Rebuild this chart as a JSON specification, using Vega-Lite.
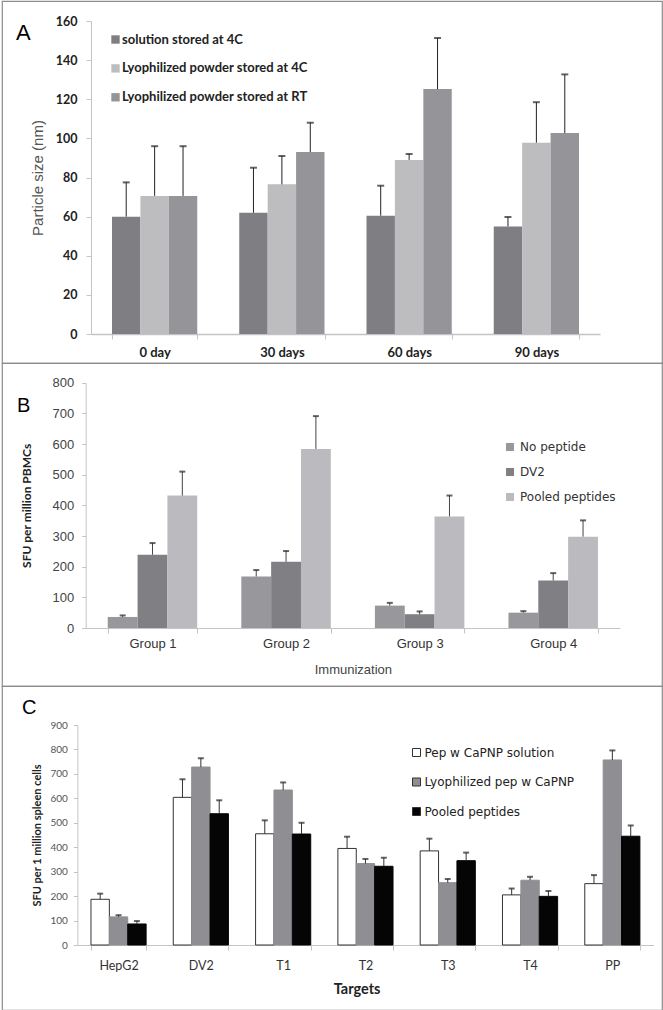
{
  "$schema": "https://vega.github.io/schema/vega-lite/v6.json",
  "padding": {"left": 1, "top": 0, "right": 0, "bottom": 0},
  "spacing": 0,
  "bounds": "flush",
  "background": "white",
  "resolve": {"scale": {"color": "independent", "fill": "independent", "stroke": "independent", "xOffset": "independent", "x": "independent", "y": "independent"}},
  "config": {
    "view": {"stroke": "#8c8c8c", "strokeWidth": 1.2},
    "axis": {"grid": false, "labelOverlap": false}
  },
  "vconcat": [
    {
      "width": 660,
      "height": 362,
      "title": {"text": "A", "anchor": "start", "frame": "group", "font": "Liberation Sans", "fontSize": 22, "fontWeight": "normal", "color": "#000", "baseline": "alphabetic", "offset": 0, "dx": 14, "dy": 61},
      "data": {"values": [
        {"g": "0 day", "s": "solution stored at 4C", "v": 60, "hi": 77.5},
        {"g": "0 day", "s": "Lyophilized powder stored at 4C", "v": 70.6, "hi": 96},
        {"g": "0 day", "s": "Lyophilized powder stored at RT", "v": 70.6, "hi": 96},
        {"g": "30 days", "s": "solution stored at 4C", "v": 62, "hi": 85},
        {"g": "30 days", "s": "Lyophilized powder stored at 4C", "v": 76.5, "hi": 91},
        {"g": "30 days", "s": "Lyophilized powder stored at RT", "v": 93, "hi": 108},
        {"g": "60 days", "s": "solution stored at 4C", "v": 60.5, "hi": 75.8},
        {"g": "60 days", "s": "Lyophilized powder stored at 4C", "v": 89, "hi": 92},
        {"g": "60 days", "s": "Lyophilized powder stored at RT", "v": 125.2, "hi": 151.3},
        {"g": "90 days", "s": "solution stored at 4C", "v": 55, "hi": 59.8},
        {"g": "90 days", "s": "Lyophilized powder stored at 4C", "v": 97.8, "hi": 118.5},
        {"g": "90 days", "s": "Lyophilized powder stored at RT", "v": 102.7, "hi": 132.7}
      ]},
      "encoding": {
        "x": {"field": "g", "type": "nominal", "sort": ["0 day", "30 days", "60 days", "90 days"],
          "scale": {"range": [89, 598], "paddingInner": 0.33, "paddingOuter": 0.165},
          "axis": {"title": null, "orient": "bottom", "offset": -29, "domainColor": "#c4c4c4", "domainWidth": 1.5, "tickColor": "#c4c4c4", "tickBand": "extent", "tickSize": 5, "labelPadding": 7, "labelFont": "Lato", "labelFontSize": 13, "labelFontWeight": "bold", "labelColor": "#222", "labelAngle": 0}},
        "xOffset": {"field": "s", "type": "nominal", "sort": ["solution stored at 4C", "Lyophilized powder stored at 4C", "Lyophilized powder stored at RT"]}
      },
      "layer": [
        {
          "mark": {"type": "bar"},
          "encoding": {
            "y": {"field": "v", "type": "quantitative",
              "scale": {"domain": [0, 160], "range": [333, 20], "nice": false},
              "axis": {"title": "Particle size (nm)", "orient": "left", "offset": -89, "values": [0, 20, 40, 60, 80, 100, 120, 140, 160], "tickCount": 20, "labelOverlap": false, "domainColor": "#c4c4c4", "tickColor": "#c4c4c4", "tickSize": 5, "labelPadding": 9, "labelFont": "Lato", "labelFontSize": 12.5, "labelFontWeight": "bold", "labelColor": "#222", "titleFont": "Liberation Sans", "titleFontSize": 15, "titleFontWeight": "normal", "titleColor": "#555", "titlePadding": 10}},
            "color": {"field": "s", "type": "nominal", "sort": ["solution stored at 4C", "Lyophilized powder stored at 4C", "Lyophilized powder stored at RT"],
              "scale": {"range": ["#7e7e83", "#bdbdc0", "#959599"]},
              "legend": {"orient": "none", "legendX": 107, "legendY": 32, "title": null, "symbolType": "square", "symbolSize": 70, "symbolStrokeWidth": 0, "labelFont": "Lato", "labelFontSize": 13, "labelFontWeight": "bold", "labelColor": "#222", "labelLimit": 400, "rowPadding": 14.9, "labelOffset": 0, "padding": 0}}
          }
        },
        {
          "mark": {"type": "rule", "color": "#222", "strokeWidth": 1},
          "encoding": {"y": {"field": "v", "type": "quantitative"}, "y2": {"field": "hi"}}
        },
        {
          "mark": {"type": "tick", "color": "#222", "thickness": 2, "size": 7},
          "encoding": {"y": {"field": "hi", "type": "quantitative"}}
        }
      ]
    },
    {
      "width": 660,
      "height": 323,
      "title": {"text": "B", "anchor": "start", "frame": "group", "font": "Liberation Sans", "fontSize": 20, "fontWeight": "normal", "color": "#000", "baseline": "alphabetic", "offset": 0, "dx": 15, "dy": 69},
      "data": {"values": [
        {"g": "Group 1", "s": "No peptide", "v": 36, "hi": 41},
        {"g": "Group 1", "s": "DV2", "v": 239, "hi": 277},
        {"g": "Group 1", "s": "Pooled peptides", "v": 432, "hi": 510},
        {"g": "Group 2", "s": "No peptide", "v": 168, "hi": 189},
        {"g": "Group 2", "s": "DV2", "v": 216, "hi": 251},
        {"g": "Group 2", "s": "Pooled peptides", "v": 584, "hi": 691},
        {"g": "Group 3", "s": "No peptide", "v": 73, "hi": 82},
        {"g": "Group 3", "s": "DV2", "v": 45, "hi": 54},
        {"g": "Group 3", "s": "Pooled peptides", "v": 364, "hi": 432},
        {"g": "Group 4", "s": "No peptide", "v": 50, "hi": 55},
        {"g": "Group 4", "s": "DV2", "v": 155, "hi": 179},
        {"g": "Group 4", "s": "Pooled peptides", "v": 298, "hi": 351}
      ]},
      "encoding": {
        "x": {"field": "g", "type": "nominal", "sort": ["Group 1", "Group 2", "Group 3", "Group 4"],
          "scale": {"range": [83.7, 618], "paddingInner": 0.33, "paddingOuter": 0.165},
          "axis": {"title": "Immunization", "orient": "bottom", "offset": -58, "domainColor": "#c4c4c4", "tickColor": "#c4c4c4", "tickBand": "extent", "tickSize": 5, "labelPadding": 4, "labelFont": "Liberation Sans", "labelFontSize": 13, "labelColor": "#333", "labelAngle": 0, "titleFont": "Liberation Sans", "titleFontSize": 13, "titleFontWeight": "normal", "titleColor": "#444", "titlePadding": 13}},
        "xOffset": {"field": "s", "type": "nominal", "sort": ["No peptide", "DV2", "Pooled peptides"]}
      },
      "layer": [
        {
          "mark": {"type": "bar"},
          "encoding": {
            "y": {"field": "v", "type": "quantitative",
              "scale": {"domain": [0, 800], "range": [265, 19.7], "nice": false},
              "axis": {"title": "SFU per million PBMCs", "orient": "left", "offset": -83.7, "values": [0, 100, 200, 300, 400, 500, 600, 700, 800], "tickCount": 20, "labelOverlap": false, "domainColor": "#c4c4c4", "tickColor": "#c4c4c4", "tickSize": 4, "labelPadding": 8, "labelFont": "Liberation Sans", "labelFontSize": 13, "labelColor": "#444", "titleFont": "Lato", "titleFontSize": 12, "titleFontWeight": "bold", "titleColor": "#222", "titlePadding": 19}},
            "color": {"field": "s", "type": "nominal", "sort": ["No peptide", "DV2", "Pooled peptides"],
              "scale": {"range": ["#98989c", "#7f7f84", "#bbbbbf"]},
              "legend": {"orient": "none", "legendX": 502, "legendY": 78, "title": null, "symbolType": "square", "symbolSize": 64, "symbolStrokeWidth": 0, "labelFont": "DejaVu Sans", "labelFontSize": 12, "labelColor": "#333", "labelLimit": 400, "rowPadding": 13, "labelOffset": 4, "padding": 0}}
          }
        },
        {
          "mark": {"type": "rule", "color": "#444", "strokeWidth": 1},
          "encoding": {"y": {"field": "v", "type": "quantitative"}, "y2": {"field": "hi"}}
        },
        {
          "mark": {"type": "tick", "color": "#222", "thickness": 2, "size": 6},
          "encoding": {"y": {"field": "hi", "type": "quantitative"}}
        }
      ]
    },
    {
      "width": 660,
      "height": 324,
      "title": {"text": "C", "anchor": "start", "frame": "group", "font": "Liberation Sans", "fontSize": 20, "fontWeight": "normal", "color": "#000", "baseline": "alphabetic", "offset": 0, "dx": 20, "dy": 48},
      "data": {"values": [
        {"g": "HepG2", "s": "Pep w CaPNP solution", "v": 187, "hi": 210},
        {"g": "HepG2", "s": "Lyophilized pep w CaPNP", "v": 115, "hi": 122},
        {"g": "HepG2", "s": "Pooled peptides", "v": 86, "hi": 98},
        {"g": "DV2", "s": "Pep w CaPNP solution", "v": 604, "hi": 678},
        {"g": "DV2", "s": "Lyophilized pep w CaPNP", "v": 728, "hi": 764},
        {"g": "DV2", "s": "Pooled peptides", "v": 537, "hi": 592},
        {"g": "T1", "s": "Pep w CaPNP solution", "v": 455, "hi": 510},
        {"g": "T1", "s": "Lyophilized pep w CaPNP", "v": 634, "hi": 665},
        {"g": "T1", "s": "Pooled peptides", "v": 454, "hi": 500},
        {"g": "T2", "s": "Pep w CaPNP solution", "v": 395, "hi": 443},
        {"g": "T2", "s": "Lyophilized pep w CaPNP", "v": 333, "hi": 352},
        {"g": "T2", "s": "Pooled peptides", "v": 322, "hi": 357},
        {"g": "T3", "s": "Pep w CaPNP solution", "v": 385, "hi": 435},
        {"g": "T3", "s": "Lyophilized pep w CaPNP", "v": 255, "hi": 270},
        {"g": "T3", "s": "Pooled peptides", "v": 345, "hi": 378},
        {"g": "T4", "s": "Pep w CaPNP solution", "v": 205, "hi": 231},
        {"g": "T4", "s": "Lyophilized pep w CaPNP", "v": 265, "hi": 279},
        {"g": "T4", "s": "Pooled peptides", "v": 199, "hi": 221},
        {"g": "PP", "s": "Pep w CaPNP solution", "v": 251, "hi": 286},
        {"g": "PP", "s": "Lyophilized pep w CaPNP", "v": 757, "hi": 796},
        {"g": "PP", "s": "Pooled peptides", "v": 445, "hi": 489}
      ]},
      "encoding": {
        "x": {"field": "g", "type": "nominal", "sort": ["HepG2", "DV2", "T1", "T2", "T3", "T4", "PP"],
          "scale": {"range": [75.4, 651.5], "paddingInner": 0.33, "paddingOuter": 0.165},
          "axis": {"title": "Targets", "titleX": 354.6, "orient": "bottom", "offset": -65, "domainColor": "#c4c4c4", "tickColor": "#c4c4c4", "tickBand": "extent", "tickSize": 5, "labelPadding": 9, "labelFont": "Lato", "labelFontSize": 12.5, "labelColor": "#333", "labelAngle": 0, "titleFont": "Lato", "titleFontSize": 14.5, "titleFontWeight": "bold", "titleColor": "#222", "titlePadding": 11}},
        "xOffset": {"field": "s", "type": "nominal", "sort": ["Pep w CaPNP solution", "Lyophilized pep w CaPNP", "Pooled peptides"]}
      },
      "layer": [
        {
          "mark": {"type": "bar", "strokeWidth": 1},
          "encoding": {
            "y": {"field": "v", "type": "quantitative",
              "scale": {"domain": [0, 900], "range": [259, 39], "nice": false},
              "axis": {"title": "SFU per 1 million spleen cells", "orient": "left", "offset": -75.4, "values": [0, 100, 200, 300, 400, 500, 600, 700, 800, 900], "tickCount": 20, "labelOverlap": false, "domainColor": "#c4c4c4", "tickColor": "#c4c4c4", "tickSize": 4, "labelPadding": 6, "labelFont": "Lato", "labelFontSize": 10, "labelColor": "#555", "titleFont": "Lato", "titleFontSize": 11, "titleFontWeight": "bold", "titleColor": "#222", "titlePadding": 7}},
            "fill": {"field": "s", "type": "nominal", "sort": ["Pep w CaPNP solution", "Lyophilized pep w CaPNP", "Pooled peptides"],
              "scale": {"range": ["#ffffff", "#8f8f93", "#050505"]},
              "legend": {"orient": "none", "legendX": 408.5, "legendY": 60.5, "title": null, "symbolType": "square", "symbolSize": 64, "symbolStrokeWidth": 1, "symbolStrokeColor": "#333", "labelFont": "DejaVu Sans", "labelFontSize": 12, "labelColor": "#222", "labelLimit": 400, "rowPadding": 17.5, "labelOffset": 2, "padding": 0}},
            "stroke": {"field": "s", "type": "nominal", "sort": ["Pep w CaPNP solution", "Lyophilized pep w CaPNP", "Pooled peptides"],
              "scale": {"range": ["#333333", "#8f8f93", "#050505"]}, "legend": null}
          }
        },
        {
          "mark": {"type": "rule", "color": "#333", "strokeWidth": 1},
          "encoding": {"y": {"field": "v", "type": "quantitative"}, "y2": {"field": "hi"}}
        },
        {
          "mark": {"type": "tick", "color": "#222", "thickness": 2, "size": 6},
          "encoding": {"y": {"field": "hi", "type": "quantitative"}}
        }
      ]
    }
  ]
}
